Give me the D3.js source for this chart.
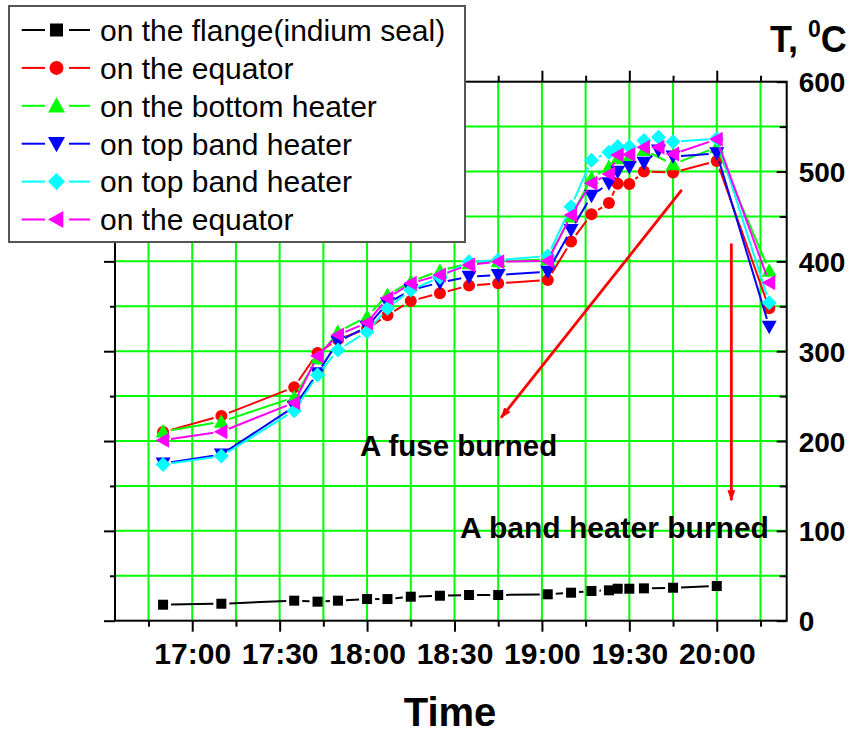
<!DOCTYPE html>
<html><head><meta charset="utf-8">
<script src="https://cdn.jsdelivr.net/npm/d3@7"></script>
<style>body{margin:0;background:#fff}svg{display:block}</style>
</head><body>
<script>
// ---- data ----
const timeLabels = ["16:50","17:10","17:35","17:43","17:50","18:00","18:07","18:15","18:25","18:35","18:45","19:02","19:10","19:17","19:23","19:26","19:30","19:35","19:40","19:45","20:00","20:18"];
const flange   = [17.8,18.9,22.3,21.2,22.3,24.1,24.1,26.7,27.8,28.6,28.6,29.4,31.2,33.1,33.8,35.6,35.6,36,null,36.7,38.6,null];
const equator1 = [210,228,260,298,313,325,340,356,364.5,373,375.6,379.3,422,452.5,465,486.5,486,500,null,499,511.7,347.7];
const bottomH  = [210.5,221.5,248.7,292,321.7,338.4,362.6,377.4,389.6,397.8,400,402.3,450,492.5,505.4,514.7,516.6,524,null,508,527,389.6];
const topBand1 = [175,185,238.2,275.4,310.6,327.3,353.3,368,376.3,383,384.8,388.5,434.9,473,486.9,499.8,505,509.8,523.3,516.6,520.3,327.3];
const topBand2 = [174,183.3,233.8,273.5,301.3,321.7,347.8,368.1,382.3,399.6,401.5,406,460.9,512.5,521.5,527.5,527.5,534.6,538.1,533.2,536.6,354];
const equator2 = [201,210.4,242.7,294.7,318,331.7,358.9,375.6,384.8,396,399.6,400.4,451.6,487,497.2,518.4,519,527,527,519.5,535.9,376.3];
const seriesNames = ["on the flange(indium seal)","on the equator","on the bottom heater","on top band heater","on top band heater","on the equator"];
const seriesColors = ["#000000","#ff0000","#00ff00","#0000ff","#00ffff","#ff00ff"];
const seriesSymbols = ["square","circle","triUp","triDown","diamond","triLeft"];
const xTickLabels = ["17:00","17:30","18:00","18:30","19:00","19:30","20:00"];
const yTickLabels = [0,100,200,300,400,500,600];
const annotations = ["A fuse burned","A band heater burned"];
// arrows given in data units: [time, value] start -> end
const arrowData = [[["19:48",479.5],["18:46",226]],[["20:05",420],["20:05",134]]];

const allSeries = [flange,equator1,bottomH,topBand1,topBand2,equator2];
const toMin = s => { const [h,m] = s.split(":").map(Number); return h*60+m; };
const fmt = m => String(Math.floor(m/60)).padStart(2,"0")+":"+String(m%60).padStart(2,"0");

const W=865,H=734;
const L=115,R=786.7,T=81.7,B=620.7;
const svg = d3.select("body").append("svg").attr("width",W).attr("height",H);
const x = d3.scaleLinear().domain([993.5,1224]).range([L,R]);
const y = d3.scaleLinear().domain([0,600]).range([B,T]);

const majorX = xTickLabels.map(toMin);
const minorX = d3.range(1005,1224,30);
const majorY = yTickLabels;
const minorY = d3.range(50,600,100);

// grid
const grid = svg.append("g");
d3.range(1005,1224,15).forEach(v=>grid.append("line").attr("x1",x(v)).attr("x2",x(v)).attr("y1",T).attr("y2",B));
d3.range(50,600,50).forEach(v=>grid.append("line").attr("x1",L).attr("x2",R).attr("y1",y(v)).attr("y2",y(v)));
grid.selectAll("line").attr("stroke","#00ff00").attr("stroke-width",2);

// axes
function axisG(axis, tr){ const g=svg.append("g").attr("transform",tr).call(axis); g.selectAll(".domain").remove(); g.selectAll("line").attr("stroke","#000").attr("stroke-width",2); return g;}
const bMaj = axisG(d3.axisBottom(x).tickValues(majorX).tickSize(11).tickFormat(fmt), `translate(0,${B})`);
bMaj.selectAll("text").attr("font-family","Liberation Sans, Arial, sans-serif").attr("font-weight","bold").attr("font-size",30).attr("fill","#000").attr("dy",0).attr("y",43);
axisG(d3.axisBottom(x).tickValues(minorX).tickSize(6).tickFormat(""), `translate(0,${B})`);
axisG(d3.axisBottom(x).tickValues(majorX).tickSize(-11).tickFormat(""), `translate(0,${T})`);
axisG(d3.axisBottom(x).tickValues(minorX).tickSize(-6).tickFormat(""), `translate(0,${T})`);
axisG(d3.axisLeft(y).tickValues(majorY).tickSize(11).tickFormat(""), `translate(${L},0)`);
axisG(d3.axisLeft(y).tickValues(minorY).tickSize(5).tickFormat(""), `translate(${L},0)`);
axisG(d3.axisRight(y).tickValues(minorY).tickSize(-7).tickFormat(""), `translate(${R},0)`);
const rMaj = axisG(d3.axisRight(y).tickValues(majorY).tickSize(-10).tickFormat(d=>d), `translate(${R},0)`);
rMaj.selectAll("text").attr("font-family","Liberation Sans, Arial, sans-serif").attr("font-weight","bold").attr("font-size",28).attr("fill","#000").attr("x",12).attr("dy","0.36em").attr("text-anchor","start");

svg.append("rect").attr("x",L).attr("y",T).attr("width",R-L).attr("height",B-T).attr("fill","none").attr("stroke","#000").attr("stroke-width",2);

// symbols
function sym(g,type,cx,cy,s,color){
  let p;
  if(type==="square") p=g.append("rect").attr("x",cx-s/2).attr("y",cy-s/2).attr("width",s).attr("height",s);
  else if(type==="circle") p=g.append("circle").attr("cx",cx).attr("cy",cy).attr("r",s/2);
  else {
    const h=s/2; let pts;
    if(type==="triUp") pts=[[cx,cy-h],[cx+h,cy+h*0.8],[cx-h,cy+h*0.8]];
    if(type==="triDown") pts=[[cx,cy+h],[cx+h,cy-h*0.8],[cx-h,cy-h*0.8]];
    if(type==="triLeft") pts=[[cx-h,cy],[cx+h*0.8,cy-h],[cx+h*0.8,cy+h]];
    if(type==="diamond") pts=[[cx,cy-h],[cx+h,cy],[cx,cy+h],[cx-h,cy]];
    p=g.append("path").attr("d",d3.line()(pts)+"Z");
  }
  p.attr("fill",color);
}
const symSize = {square:10,circle:12,triUp:15,triDown:15,diamond:15,triLeft:15};
const seg = d3.line();
allSeries.forEach((vals,si)=>{
  const g=svg.append("g");
  const pts = timeLabels.map((t,i)=>vals[i]==null?null:[x(toMin(t)),y(vals[i])]).filter(p=>p);
  const gap=8;
  for(let i=0;i<pts.length-1;i++){
    const [x1,y1]=pts[i],[x2,y2]=pts[i+1];
    const dx=x2-x1,dy=y2-y1,len=Math.hypot(dx,dy);
    if(len<=2*gap+1) continue;
    const ux=dx/len,uy=dy/len;
    g.append("path").attr("d",seg([[x1+ux*gap,y1+uy*gap],[x2-ux*gap,y2-uy*gap]])).attr("stroke",seriesColors[si]).attr("stroke-width",2).attr("fill","none");
  }
  pts.forEach(p=>sym(g,seriesSymbols[si],p[0],p[1],symSize[seriesSymbols[si]],seriesColors[si]));
});

// arrows
const defs=svg.append("defs");
defs.append("marker").attr("id","ah").attr("viewBox","0 0 10 10").attr("refX",9).attr("refY",5).attr("markerWidth",4).attr("markerHeight",4).attr("orient","auto")
  .append("path").attr("d","M0,1.5 L10,5 L0,8.5 Z").attr("fill","#ff0000");
arrowData.forEach(a=>{
  svg.append("path").attr("d",seg([[x(toMin(a[0][0])),y(a[0][1])],[x(toMin(a[1][0])),y(a[1][1])]])).attr("stroke","#ff0000").attr("stroke-width",2.8).attr("marker-end","url(#ah)");
});

// annotation text
const bold = s=>s.attr("font-family","Liberation Sans, Arial, sans-serif").attr("font-weight","bold").attr("fill","#000");
bold(svg.append("text").attr("x",360).attr("y",456).attr("font-size",29.5).text(annotations[0]));
bold(svg.append("text").attr("x",460).attr("y",538).attr("font-size",30).text(annotations[1]));

// axis titles
bold(svg.append("text").attr("x",450).attr("y",726).attr("text-anchor","middle").attr("font-size",40).text("Time"));
const tt = bold(svg.append("text").attr("x",770).attr("y",52).attr("font-size",36));
tt.append("tspan").text("T, ");
tt.append("tspan").attr("font-size",23).attr("dy",-15).text("0");
tt.append("tspan").attr("dy",15).text("C");

// legend
const lg=svg.append("g");
lg.append("rect").attr("x",9).attr("y",6).attr("width",456).attr("height",236).attr("fill","#fff").attr("stroke","#555").attr("stroke-width",2);
seriesNames.forEach((n,i)=>{
  const cy=30+i*37.9;
  lg.append("path").attr("d",seg([[21.7,cy],[45,cy]])).attr("stroke",seriesColors[i]).attr("stroke-width",2);
  lg.append("path").attr("d",seg([[69,cy],[90,cy]])).attr("stroke",seriesColors[i]).attr("stroke-width",2);
  sym(lg,seriesSymbols[i],56.5,cy,seriesSymbols[i]==="square"?13:(seriesSymbols[i]==="circle"?14:17),seriesColors[i]);
  lg.append("text").attr("x",100).attr("y",cy).attr("dy","0.36em").attr("font-family","Liberation Sans, Arial, sans-serif").attr("font-size",30).attr("fill","#000").text(n);
});
</script>
</body></html>
